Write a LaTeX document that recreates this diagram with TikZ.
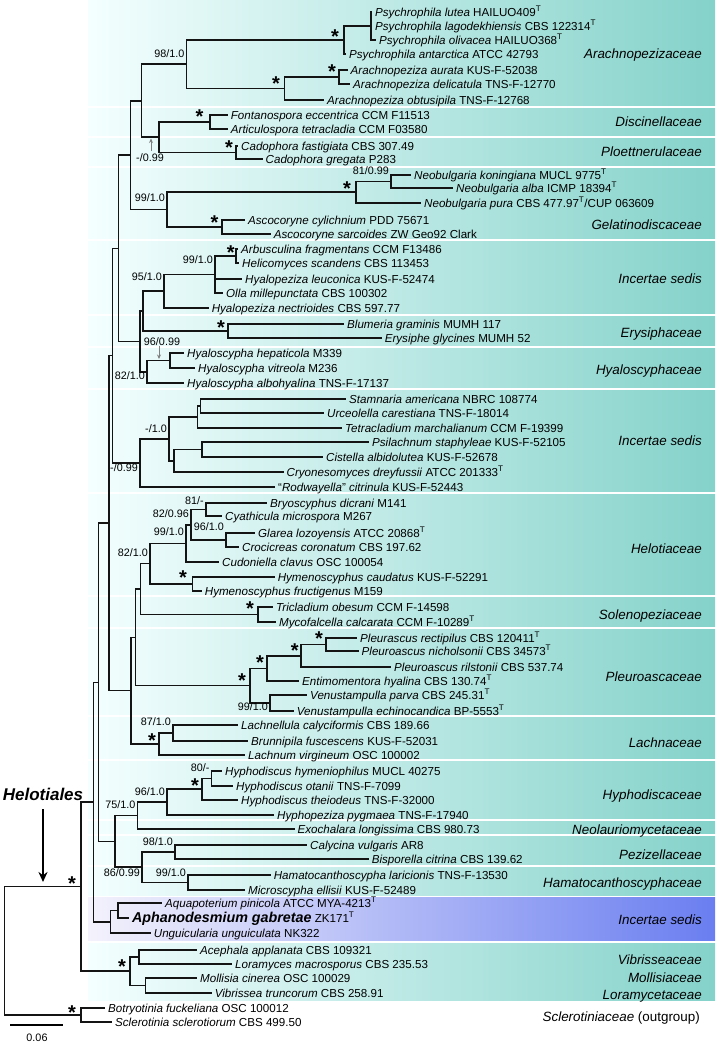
\documentclass[tikz,border=0pt]{standalone}
\usepackage{fontspec}
\setmainfont{Liberation Sans}
\usetikzlibrary{arrows.meta}
\definecolor{bandL}{HTML}{F4FFFF}
\definecolor{bandM}{HTML}{C2F8F8}
\definecolor{bandR}{HTML}{84D2CA}
\definecolor{blueL}{HTML}{F4F2FC}
\definecolor{blueM}{HTML}{BAC3F3}
\definecolor{blueR}{HTML}{6A7EF0}
\newcommand\tsup{\textsuperscript{T}}
\newcommand\lf[4]{\coordinate (#1) at (#2,#3); \node[taxon] (#1t) at (#1) {#4};}
\begin{document}
\begin{tikzpicture}[x=1pt,y=-1pt,
  br/.style={line width=1.55pt, black!92, line join=miter},
  taxon/.style={anchor=base west, inner sep=0pt, font=\fontsize{11.6}{13}\selectfont, yshift=-4.1pt, xshift=3pt},
  fam/.style={anchor=base east, inner sep=0pt, font=\fontsize{13.4}{14}\selectfont\itshape, yshift=-4.8pt},
  sup/.style={inner sep=0pt, font=\fontsize{10.8}{12}\selectfont},
  supr/.style={sup, anchor=east},
  ast/.style={inner sep=0pt, anchor=base, font=\fontsize{20}{20}\selectfont\bfseries},
  band/.style={left color=bandL, middle color=bandM, right color=bandR},
  bband/.style={left color=blueL, middle color=blueM, right color=blueR},
  gar/.style={draw=gray, line width=0.9pt, -{Stealth[length=4.5pt,width=4pt]}}
]
\useasboundingbox (0,0) rectangle (715,1043);
\fill[white] (0,0) rectangle (715,1043);
% bands
\foreach \a/\b in {1/105.5,108.5/135.5,138.5/165.5,168.5/238.5,241.5/313.5,316.5/345.5,348.5/387.5,390.5/491.5,494.5/594.5,597.5/626.5,629.5/714.5,717.5/758.5,761.5/818.5,821.5/833.5,836.5/864.5,867.5/895.5,943.5/1000}
  \fill[band] (88,\a) rectangle (715,\b);
\fill[bband] (88,897) rectangle (715,940.5);
% family labels
\node[fam] (f1) at (702,54) {Arachnopezizaceae};
\node[fam] (f2) at (702,122) {Discinellaceae};
\node[fam] (f3) at (702,152) {Ploettnerulaceae};
\node[fam] (f4) at (702,225) {Gelatinodiscaceae};
\node[fam] (f5) at (702,279) {Incertae sedis};
\node[fam] (f6) at (702,333) {Erysiphaceae};
\node[fam] (f7) at (702,370) {Hyaloscyphaceae};
\node[fam] (f8) at (702,441) {Incertae sedis};
\node[fam] (f9) at (702,549) {Helotiaceae};
\node[fam] (f10) at (702,615) {Solenopeziaceae};
\node[fam] (f11) at (702,677) {Pleuroascaceae};
\node[fam] (f12) at (702,743) {Lachnaceae};
\node[fam] (f13) at (702,795) {Hyphodiscaceae};
\node[fam] (f14) at (702,830) {Neolauriomycetaceae};
\node[fam] (f15) at (702,855) {Pezizellaceae};
\node[fam] (f16) at (702,883) {Hamatocanthoscyphaceae};
\node[fam] (f17) at (702,920) {Incertae sedis};
\node[fam] (f18) at (702,960) {Vibrisseaceae};
\node[fam] (f19) at (702,978) {Mollisiaceae};
\node[fam] (f20) at (702,995) {Loramycetaceae};
\node[fam] (f21) at (700,1017) {\textit{Sclerotiniaceae} \upshape(outgroup)};
% leaves
\lf{L1}{372}{12}{\textit{Psychrophila lutea} HAILUO409\tsup}
\lf{L2}{372}{26}{\textit{Psychrophila lagodekhiensis} CBS 122314\tsup}
\lf{L3}{376}{40}{\textit{Psychrophila olivacea} HAILUO368\tsup}
\lf{L4}{346}{54}{\textit{Psychrophila antarctica} ATCC 42793}
\lf{L5}{347.5}{70}{\textit{Arachnopeziza aurata} KUS-F-52038}
\lf{L6}{350}{84}{\textit{Arachnopeziza delicatula} TNS-F-12770}
\lf{L7}{324}{100}{\textit{Arachnopeziza obtusipila} TNS-F-12768}
\lf{L8}{227.7}{115}{\textit{Fontanospora eccentrica} CCM F11513}
\lf{L9}{227.7}{129}{\textit{Articulospora tetracladia} CCM F03580}
\lf{L10}{238}{146}{\textit{Cadophora fastigiata} CBS 307.49}
\lf{L11}{262.5}{159}{\textit{Cadophora gregata} P283}
\lf{L12}{411}{175}{\textit{Neobulgaria koningiana} MUCL 9775\tsup}
\lf{L13}{453}{188}{\textit{Neobulgaria alba} ICMP 18394\tsup}
\lf{L14}{421}{203}{\textit{Neobulgaria pura} CBS 477.97\tsup/CUP 063609}
\lf{L15}{245}{220}{\textit{Ascocoryne cylichnium} PDD 75671}
\lf{L16}{270.6}{234}{\textit{Ascocoryne sarcoides} ZW Geo92 Clark}
\lf{L17}{238}{249}{\textit{Arbusculina fragmentans} CCM F13486}
\lf{L18}{239}{263}{\textit{Helicomyces scandens} CBS 113453}
\lf{L19}{242}{279}{\textit{Hyalopeziza leuconica} KUS-F-52474}
\lf{L20}{223}{293}{\textit{Olla millepunctata} CBS 100302}
\lf{L21}{208.6}{308}{\textit{Hyalopeziza nectrioides} CBS 597.77}
\lf{L22}{344}{324}{\textit{Blumeria graminis} MUMH 117}
\lf{L23}{381.6}{338}{\textit{Erysiphe glycines} MUMH 52}
\lf{L24}{184}{353}{\textit{Hyaloscypha hepaticola} M339}
\lf{L25}{195}{368}{\textit{Hyaloscypha vitreola} M236}
\lf{L26}{184}{383}{\textit{Hyaloscypha albohyalina} TNS-F-17137}
\lf{L27}{346}{399}{\textit{Stamnaria americana} NBRC 108774}
\lf{L28}{324}{413}{\textit{Urceolella carestiana} TNS-F-18014}
\lf{L29}{342}{428}{\textit{Tetracladium marchalianum} CCM F-19399}
\lf{L30}{369}{442}{\textit{Psilachnum staphyleae} KUS-F-52105}
\lf{L31}{323}{457}{\textit{Cistella albidolutea} KUS-F-52678}
\lf{L32}{283.5}{472}{\textit{Cryonesomyces dreyfussii} ATCC 201333\tsup}
\lf{L33}{275}{487}{“\textit{Rodwayella}” \textit{citrinula} KUS-F-52443}
\lf{L34}{267}{503}{\textit{Bryoscyphus dicrani} M141}
\lf{L35}{222}{516}{\textit{Cyathicula microspora} M267}
\lf{L36}{255}{533}{\textit{Glarea lozoyensis} ATCC 20868\tsup}
\lf{L37}{239}{547}{\textit{Crocicreas coronatum} CBS 197.62}
\lf{L38}{219}{562}{\textit{Cudoniella clavus} OSC 100054}
\lf{L39}{274.6}{577}{\textit{Hymenoscyphus caudatus} KUS-F-52291}
\lf{L40}{201.7}{591}{\textit{Hymenoscyphus fructigenus} M159}
\lf{L41}{273}{607}{\textit{Tricladium obesum} CCM F-14598}
\lf{L42}{276}{622}{\textit{Mycofalcella calcarata} CCM F-10289\tsup}
\lf{L43}{357}{638}{\textit{Pleurascus rectipilus} CBS 120411\tsup}
\lf{L44}{358.5}{651}{\textit{Pleuroascus nicholsonii} CBS 34573\tsup}
\lf{L45}{391}{667}{\textit{Pleuroascus rilstonii} CBS 537.74}
\lf{L46}{299}{681}{\textit{Entimomentora hyalina} CBS 130.74\tsup}
\lf{L47}{307}{695}{\textit{Venustampulla parva} CBS 245.31\tsup}
\lf{L48}{293.7}{711}{\textit{Venustampulla echinocandica} BP-5553\tsup}
\lf{L49}{238}{725}{\textit{Lachnellula calyciformis} CBS 189.66}
\lf{L50}{248}{741}{\textit{Brunnipila fuscescens} KUS-F-52031}
\lf{L51}{245}{755}{\textit{Lachnum virgineum} OSC 100002}
\lf{L52}{222}{771}{\textit{Hyphodiscus hymeniophilus} MUCL 40275}
\lf{L53}{233}{786}{\textit{Hyphodiscus otanii} TNS-F-7099}
\lf{L54}{238}{800}{\textit{Hyphodiscus theiodeus} TNS-F-32000}
\lf{L55}{274}{815}{\textit{Hyphopeziza pygmaea} TNS-F-17940}
\lf{L56}{294.5}{829}{\textit{Exochalara longissima} CBS 980.73}
\lf{L57}{307}{845}{\textit{Calycina vulgaris} AR8}
\lf{L58}{368.6}{859}{\textit{Bisporella citrina} CBS 139.62}
\lf{L59}{270.6}{875}{\textit{Hamatocanthoscypha laricionis} TNS-F-13530}
\lf{L60}{245}{890}{\textit{Microscypha ellisii} KUS-F-52489}
\lf{L61}{162}{903}{\textit{Aquapoterium pinicola} ATCC MYA-4213\tsup}
\lf{L62}{128.8}{918}{{\fontsize{14.3}{15}\selectfont\bfseries\itshape Aphanodesmium gabretae} ZK171\tsup}
\lf{L63}{150.7}{933}{\textit{Unguicularia unguiculata} NK322}
\lf{L64}{197}{950}{\textit{Acephala applanata} CBS 109321}
\lf{L65}{232}{964}{\textit{Loramyces macrosporus} CBS 235.53}
\lf{L66}{197}{978}{\textit{Mollisia cinerea} OSC 100029}
\lf{L67}{211.6}{993}{\textit{Vibrissea truncorum} CBS 258.91}
\lf{L68}{105}{1008}{\textit{Botryotinia fuckeliana} OSC 100012}
\lf{L69}{112}{1022}{\textit{Sclerotinia sclerotiorum} CBS 499.50}
% internal nodes
\coordinate (nPsyIn) at (371,26);
\coordinate (nPsy) at (344,40);
\coordinate (nAD) at (339,77);
\coordinate (nArach) at (284.5,88.5);
\coordinate (nAr) at (186.5,64.25);
\coordinate (nDisc) at (210,122);
\coordinate (nPloe) at (236,152.5);
\coordinate (nDP) at (159,137.25);
\coordinate (nA) at (141.6,100.75);
\coordinate (n81) at (391,181.5);
\coordinate (nNeo) at (356,192.25);
\coordinate (nAsco) at (222,227);
\coordinate (nGel) at (167,209.6);
\coordinate (nB) at (130.6,155.2);
\coordinate (nArbus) at (236,256);
\coordinate (n99a) at (215,274.5);
\coordinate (n95) at (164,291.25);
\coordinate (nErys) at (228,331);
\coordinate (nQ) at (142.8,311.1);
\coordinate (nHV) at (170,360.5);
\coordinate (nHyalo) at (147,371.75);
\coordinate (nD) at (140,341.4);
\coordinate (nC) at (118.5,248.3);
\coordinate (nSU) at (200.7,406);
\coordinate (nT) at (197.5,417);
\coordinate (nPC) at (202,449.5);
\coordinate (nCr) at (174,460.75);
\coordinate (nI1) at (169,438.9);
\coordinate (nE) at (140,462.9);
\coordinate (nF) at (112.6,355.6);
\coordinate (nBy) at (206,509.5);
\coordinate (nGC) at (226,540);
\coordinate (n8296) at (191,524.75);
\coordinate (n99b) at (186,543.4);
\coordinate (nHy) at (192.6,584);
\coordinate (nHelo) at (150,563.7);
\coordinate (nSol) at (258,614.5);
\coordinate (nK) at (140.5,589.1);
\coordinate (nPN) at (326,644.5);
\coordinate (nPR) at (301,655.75);
\coordinate (nPE) at (267,668.4);
\coordinate (nV) at (270,703);
\coordinate (nPleu) at (250,685.7);
\coordinate (nJ) at (135.5,637.4);
\coordinate (n87) at (173,733);
\coordinate (nLach) at (159,744);
\coordinate (nI) at (131,690.7);
\coordinate (nG) at (109,523.2);
\coordinate (n80) at (211.6,778.5);
\coordinate (nS) at (202,789.25);
\coordinate (n96) at (167,802.1);
\coordinate (n75) at (137.5,815.6);
\coordinate (nPez) at (175,852);
\coordinate (nHam) at (188,882.5);
\coordinate (n86) at (142,867.25);
\coordinate (nX) at (115,841.4);
\coordinate (nN) at (98.5,682.3);
\coordinate (nAA) at (118,910.5);
\coordinate (nAph) at (110.5,921.75);
\coordinate (nM) at (93.5,802);
\coordinate (nAL) at (139,957);
\coordinate (nMV) at (145.5,985.5);
\coordinate (nVib) at (130,971.25);
\coordinate (nH) at (81,886.6);
\coordinate (nOut) at (81,1015);
\coordinate (nRoot) at (4.5,950.8);
% edges
\foreach \p/\c in {nPsyIn/L1,nPsyIn/L2,nPsyIn/L3,nPsy/nPsyIn,nPsy/L4,nAD/L5,nAD/L6,nArach/nAD,nArach/L7,nAr/nPsy,nAr/nArach,
 nDisc/L8,nDisc/L9,nPloe/L10,nPloe/L11,nDP/nDisc,nDP/nPloe,nA/nAr,nA/nDP,n81/L12,n81/L13,nNeo/n81,nNeo/L14,nAsco/L15,nAsco/L16,
 nGel/nNeo,nGel/nAsco,nB/nA,nB/nGel,nArbus/L17,nArbus/L18,n99a/nArbus,n99a/L19,n99a/L20,n95/n99a,n95/L21,nErys/L22,nErys/L23,
 nQ/n95,nQ/nErys,nHV/L24,nHV/L25,nHyalo/nHV,nHyalo/L26,nD/nQ,nD/nHyalo,nC/nB,nC/nD,nSU/L27,nSU/L28,nT/nSU,nT/L29,nPC/L30,nPC/L31,
 nCr/nPC,nCr/L32,nI1/nT,nI1/nCr,nE/nI1,nE/L33,nF/nC,nF/nE,nBy/L34,nBy/L35,nGC/L36,nGC/L37,n8296/nBy,n8296/nGC,n99b/n8296,n99b/L38,
 nHy/L39,nHy/L40,nHelo/n99b,nHelo/nHy,nSol/L41,nSol/L42,nK/nHelo,nK/nSol,nPN/L43,nPN/L44,nPR/nPN,nPR/L45,nPE/nPR,nPE/L46,
 nV/L47,nV/L48,nPleu/nPE,nPleu/nV,nJ/nK,nJ/nPleu,n87/L49,n87/L50,nLach/n87,nLach/L51,nI/nJ,nI/nLach,nG/nF,nG/nI,
 n80/L52,n80/L53,nS/n80,nS/L54,n96/nS,n96/L55,n75/n96,n75/L56,nPez/L57,nPez/L58,nHam/L59,nHam/L60,n86/nPez,n86/nHam,
 nX/n75,nX/n86,nN/nG,nN/nX,nAA/L61,nAA/L62,nAph/nAA,nAph/L63,nM/nN,nM/nAph,nAL/L64,nAL/L65,nMV/L66,nMV/L67,
 nVib/nAL,nVib/nMV,nH/nM,nH/nVib,nOut/L68,nOut/L69,nRoot/nH,nRoot/nOut}
  \draw[br] (\p) |- (\c);
% asterisks
\foreach \x/\y [count=\i] in {335/32,332/67,276/79,199.5/112,229/143,347/183,214.5/217,230.7/247,221/322,183/572,250/603,319/633,294.7/645,260/657,242/675,152/735,195/780,72/878,122/961,72/1007}
  \node[ast] (s\i) at (\x,\y+12) {*};
% support values
\node[supr] (b1) at (184.5,54) {98/1.0};
\node[sup] (b2) at (150,158) {-/0.99};
\node[supr] (b3) at (165,198) {99/1.0};
\node[supr] (b4) at (389,171) {81/0.99};
\node[supr] (b5) at (213,260) {99/1.0};
\node[supr] (b6) at (162,277) {95/1.0};
\node[sup] (b7) at (162,342) {96/0.99};
\node[supr] (b8) at (145,376) {82/1.0};
\node[supr] (b9) at (167,429) {-/1.0};
\node[supr] (b10) at (138,468) {-/0.99};
\node[supr] (b11) at (204,501) {81/-};
\node[supr] (b12) at (189,514) {82/0.96};
\node[supr] (b13) at (224,527) {96/1.0};
\node[supr] (b14) at (184,532) {99/1.0};
\node[supr] (b15) at (148,553) {82/1.0};
\node[supr] (b16) at (268,707) {99/1.0};
\node[supr] (b17) at (171,722) {87/1.0};
\node[supr] (b18) at (209.6,768) {80/-};
\node[supr] (b19) at (165,792) {96/1.0};
\node[supr] (b20) at (135.5,805) {75/1.0};
\node[supr] (b21) at (173,842) {98/1.0};
\node[supr] (b22) at (140,873) {86/0.99};
\node[supr] (b23) at (186,873) {99/1.0};
% grey pointer arrows
\coordinate (g1s) at (151,151); \coordinate (g1e) at (151,138.5);
\draw[gar] (g1s) -- (g1e);
\coordinate (g2s) at (159,346); \coordinate (g2e) at (159,359);
\draw[gar] (g2s) -- (g2e);
% Helotiales label and arrow
\node[anchor=base, inner sep=0pt, font=\fontsize{17}{17}\selectfont\bfseries\itshape] (hel) at (43,800) {Helotiales};
\coordinate (ha) at (43,809); \coordinate (hb) at (43,882);
\draw[line width=1.9pt, -{Stealth[length=10pt,width=9pt]}] (ha) -- (hb);
% scale bar
\coordinate (sb1) at (10,1025); \coordinate (sb2) at (63,1025);
\draw[line width=1.1pt] (sb1) -- (sb2);
\node[sup] (sbl) at (37,1038) {0.06};
\end{tikzpicture}
\end{document}
